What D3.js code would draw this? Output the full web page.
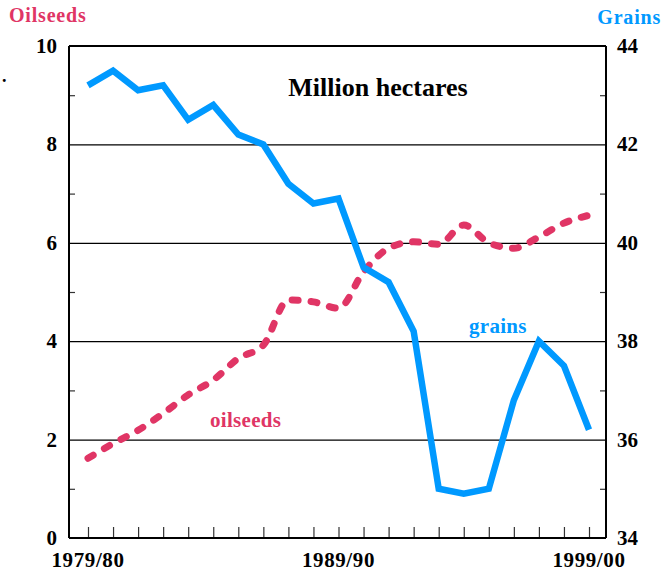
<!DOCTYPE html>
<html lang="en">
<head>
    <meta charset="UTF-8">
    <title>Oilseeds and grains area</title>
    <script src="https://d3js.org/d3.v7.min.js"></script>
    <style>
        body { margin: 0; background: #fff; }
        text { font-family: "Liberation Serif", "Times New Roman", serif; font-weight: bold; }
    </style>
</head>
<body>
    <div id="chart"></div>

    <script>
        // crop years, 1979/80 .. 1999/00
        const years = ["1979/80", "1980/81", "1981/82", "1982/83", "1983/84", "1984/85", "1985/86",
            "1986/87", "1987/88", "1988/89", "1989/90", "1990/91", "1991/92", "1992/93", "1993/94",
            "1994/95", "1995/96", "1996/97", "1997/98", "1998/99", "1999/00"];
        const yearLabels = ["1979/80", "1989/90", "1999/00"];

        // million hectares
        const grains = [43.2, 43.5, 43.1, 43.2, 42.5, 42.8, 42.2, 42.0, 41.2, 40.8, 40.9,
            39.5, 39.2, 38.2, 35.0, 34.9, 35.0, 36.8, 38.0, 37.5, 36.2];
        const oilseeds = [1.62, 1.92, 2.19, 2.53, 2.91, 3.21, 3.65, 3.92, 4.84, 4.80, 4.67,
            5.41, 5.89, 6.02, 5.97, 6.36, 6.00, 5.89, 6.12, 6.40, 6.56];

        const leftTicks = [0, 2, 4, 6, 8, 10];
        const rightTicks = [34, 36, 38, 40, 42, 44];

        const blue = "#0099ff";
        const pink = "#e03565";

        const W = 665, H = 573;
        const margin = { top: 46, right: 59, bottom: 35, left: 69 };
        const width = W - margin.left - margin.right;
        const height = H - margin.top - margin.bottom;

        const svg = d3.select("#chart").append("svg")
            .attr("width", W)
            .attr("height", H);

        const g = svg.append("g")
            .attr("transform", `translate(${margin.left},${margin.top})`);

        const x = d3.scalePoint().domain(years).range([19, width - 17]);
        const yL = d3.scaleLinear().domain([0, 10]).range([height, 0]);
        const yR = d3.scaleLinear().domain([34, 44]).range([height, 0]);

        // gridlines at the labelled values
        g.append("g")
            .call(d3.axisLeft(yL).tickValues([2, 4, 6, 8]).tickSize(-width).tickFormat(""))
            .call(a => a.select(".domain").remove())
            .selectAll("line").attr("stroke", "#000").attr("stroke-width", 1.2);

        // minor ticks inside the frame
        g.append("g")
            .call(d3.axisRight(yL).tickValues([1, 3, 5, 7, 9]).tickSize(6).tickFormat(""))
            .call(a => a.select(".domain").remove())
            .selectAll("line").attr("stroke", "#333").attr("stroke-width", 1.2);
        g.append("g")
            .attr("transform", `translate(${width},0)`)
            .call(d3.axisLeft(yR).tickValues([35, 37, 39, 41, 43]).tickSize(6).tickFormat(""))
            .call(a => a.select(".domain").remove())
            .selectAll("line").attr("stroke", "#333").attr("stroke-width", 1.2);

        // year ticks pointing up
        g.append("g")
            .attr("transform", `translate(0,${height})`)
            .call(d3.axisTop(x).tickSize(11).tickFormat(""))
            .call(a => a.select(".domain").remove())
            .selectAll("line").attr("stroke", "#333").attr("stroke-width", 1.2);

        // frame
        g.append("line").attr("x1", 0).attr("x2", width).attr("y1", 0).attr("y2", 0)
            .attr("stroke", "#000").attr("stroke-width", 2);
        g.append("line").attr("x1", 0).attr("x2", width).attr("y1", height).attr("y2", height)
            .attr("stroke", "#000").attr("stroke-width", 2);
        g.append("line").attr("x1", 0).attr("x2", 0).attr("y1", 0).attr("y2", height)
            .attr("stroke", "#000").attr("stroke-width", 2);
        g.append("line").attr("x1", width).attr("x2", width).attr("y1", 0).attr("y2", height)
            .attr("stroke", "#000").attr("stroke-width", 2);

        // tick labels
        g.selectAll(".ltick").data(leftTicks).enter().append("text")
            .attr("x", -12).attr("y", d => yL(d) + 7)
            .attr("text-anchor", "end").attr("font-size", 21)
            .text(d => d);
        g.selectAll(".rtick").data(rightTicks).enter().append("text")
            .attr("x", width + 11).attr("y", d => yR(d) + 7)
            .attr("font-size", 21)
            .text(d => d);
        g.selectAll(".xtick").data(yearLabels).enter().append("text")
            .attr("x", d => x(d)).attr("y", height + 29)
            .attr("text-anchor", "middle").attr("font-size", 21)
            .attr("letter-spacing", 0.6)
            .text(d => d);

        // oilseeds, dashed and smoothed
        g.append("path")
            .datum(oilseeds)
            .attr("fill", "none")
            .attr("stroke", pink)
            .attr("stroke-width", 7)
            .attr("stroke-linecap", "round")
            .attr("stroke-dasharray", "6,13")
            .attr("d", d3.line()
                .x((d, i) => x(years[i]))
                .y(d => yL(d))
                .curve(d3.curveMonotoneX));

        // grains
        g.append("path")
            .datum(grains)
            .attr("fill", "none")
            .attr("stroke", blue)
            .attr("stroke-width", 6.5)
            .attr("stroke-linejoin", "miter")
            .attr("d", d3.line()
                .x((d, i) => x(years[i]))
                .y(d => yR(d)));

        // titles and labels
        svg.append("text").attr("x", 9).attr("y", 22)
            .attr("font-size", 20).attr("letter-spacing", 0.8).attr("fill", pink).text("Oilseeds");
        svg.append("text").attr("x", 661).attr("y", 24)
            .attr("text-anchor", "end").attr("font-size", 20).attr("letter-spacing", 0.8)
            .attr("fill", blue).text("Grains");
        svg.append("text").attr("x", 2).attr("y", 82)
            .attr("font-size", 18).text(".");
        svg.append("text").attr("x", 378).attr("y", 96)
            .attr("text-anchor", "middle").attr("font-size", 26).text("Million hectares");
        svg.append("text").attr("x", 469).attr("y", 333)
            .attr("font-size", 21).attr("letter-spacing", 0.3).attr("fill", blue).text("grains");
        svg.append("text").attr("x", 210).attr("y", 427)
            .attr("font-size", 21).attr("letter-spacing", 0.3).attr("fill", pink).text("oilseeds");
    </script>
</body>
</html>
